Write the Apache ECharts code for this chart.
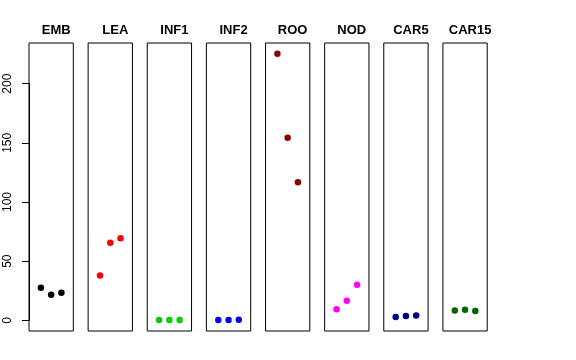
<!DOCTYPE html>
<html>
<head>
<meta charset="utf-8">
<script src="https://cdn.jsdelivr.net/npm/echarts@6/dist/echarts.min.js"></script>
<style>html,body{margin:0;padding:0;background:#fff}#c{width:576px;height:360px}</style>
</head>
<body>
<div id="c"></div>
<script>
const categories = ['EMB', 'LEA', 'INF1', 'INF2', 'ROO', 'NOD', 'CAR5', 'CAR15'];
const xPositions = [1, 2, 3];
const EMB = [27.6, 21.6, 23.3];
const LEA = [38.0, 65.6, 69.3];
const INF1 = [0.3, 0.3, 0.3];
const INF2 = [0.3, 0.3, 0.5];
const ROO = [225.4, 154.4, 116.7];
const NOD = [9.3, 16.6, 30.1];
const CAR5 = [2.8, 3.6, 4.2];
const CAR15 = [8.4, 9.0, 7.9];
const yTicks = [0, 50, 100, 150, 200];
const colors = ['#000000', '#FF0000', '#00CD00', '#0000FF', '#8B0000', '#FF00FF', '#00008B', '#006400'];
const panelValues = [EMB, LEA, INF1, INF2, ROO, NOD, CAR5, CAR15];

const FONT = 'Liberation Sans, Arial, Helvetica, sans-serif';
const panelLeft0 = 29, panelStep = 59.13, panelW = 44.3, panelTop = 43, panelBottom = 29;
const yMin = -9.0, yMax = 234.4, xMin = -0.16, xMax = 4.16;

const grids = [], xAxes = [], yAxes = [], series = [], titles = [];
categories.forEach((cat, i) => {
  const left = panelLeft0 + i * panelStep;
  grids.push({left: left, width: panelW, top: panelTop, bottom: panelBottom, show: true,
    borderColor: '#000', borderWidth: 1, backgroundColor: 'transparent'});
  xAxes.push({type: 'value', gridIndex: i, min: xMin, max: xMax, show: false});
  yAxes.push({type: 'value', gridIndex: i, min: yMin, max: yMax, show: false});
  series.push({type: 'scatter', xAxisIndex: i, yAxisIndex: i, symbol: 'circle', symbolSize: 6.5,
    itemStyle: {color: colors[i], opacity: 1}, silent: true, animation: false,
    data: panelValues[i].map((v, k) => [xPositions[k], v])});
  titles.push({text: cat, left: left + panelW / 2, top: 19, textAlign: 'center',
    textStyle: {fontFamily: FONT, fontSize: 13, fontWeight: 'bold', color: '#000'}});
});
// axis-only grid spanning 0..200
const y0px = 320.3, y200px = 83.7;
grids.push({left: panelLeft0, width: panelW, top: y200px, bottom: 360 - y0px, show: false});
xAxes.push({type: 'value', gridIndex: 8, min: 0, max: 1, show: false});
yAxes.push({type: 'value', gridIndex: 8, min: yTicks[0], max: yTicks[yTicks.length - 1],
  interval: yTicks[1] - yTicks[0], position: 'left',
  axisLine: {show: true, lineStyle: {color: '#000', width: 1}},
  axisTick: {show: true, length: 7, lineStyle: {color: '#000'}},
  splitLine: {show: false},
  axisLabel: {show: true, rotate: 90, margin: 15, fontSize: 12, fontFamily: FONT, color: '#000'}
});

const chart = echarts.init(document.getElementById('c'), null, {renderer: 'canvas'});
chart.setOption({
  animation: false,
  backgroundColor: '#fff',
  title: titles,
  grid: grids,
  xAxis: xAxes,
  yAxis: yAxes,
  series: series
});
</script>
</body>
</html>
